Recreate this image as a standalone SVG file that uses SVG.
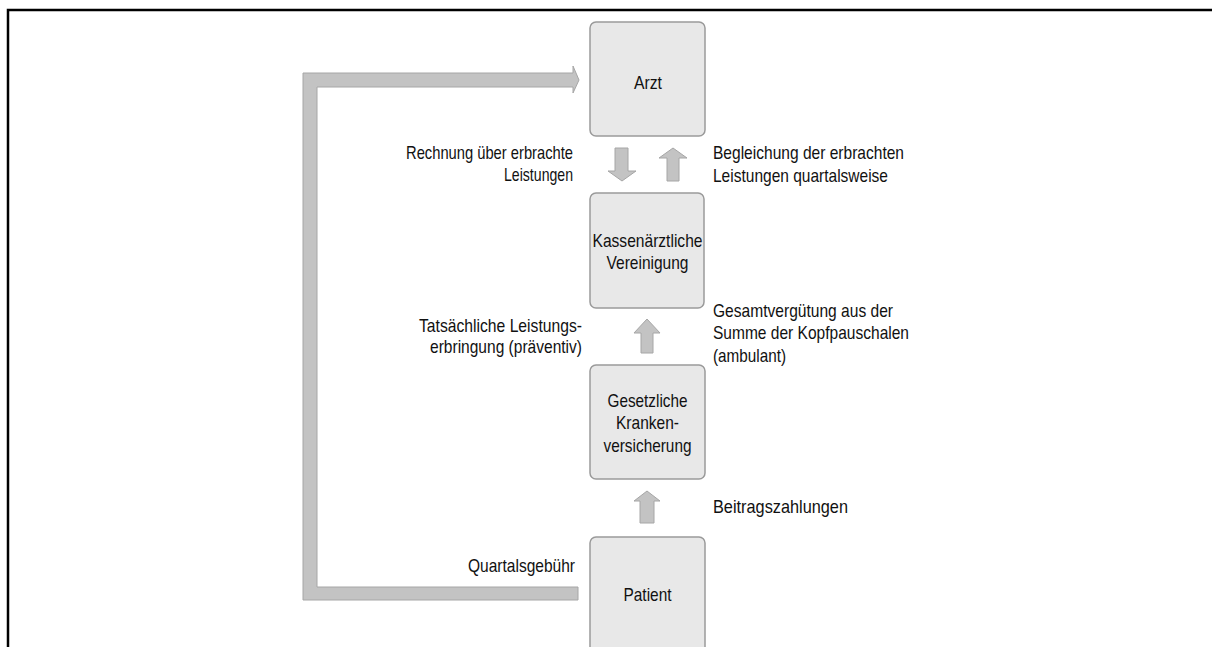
<svg xmlns="http://www.w3.org/2000/svg" width="1213" height="647" viewBox="0 0 1213 647">
<style>
.box{fill:#e8e8e8;stroke:#9a9a9a;stroke-width:1.5}
.arr{fill:#c3c3c3;stroke:#a6a6a6;stroke-width:1}
text{font-family:"Liberation Sans","Arial",sans-serif;font-size:19px;fill:#111}
.c{text-anchor:middle}
.r{text-anchor:end}
.frame{stroke:#000;stroke-width:2.5;fill:none}
</style>
<rect width="1213" height="647" fill="#fff"/>
<path class="frame" d="M8,647 V10 H1212"/>
<g id="connectors">
<polygon class="arr" points="303,73 573,73 573,66 579,80 573,93 573,87 317,87 317,587 578,587 578,600 303,600"/>
<polygon class="arr" points="615,148 628,148 628,171 636,171 622,181 608,171 615,171"/>
<polygon class="arr" points="667,181 679,181 679,158 687,158 673,148 659,158 667,158"/>
<polygon class="arr" points="641,353 653,353 653,333 660,333 647,319 634,333 641,333"/>
<polygon class="arr" points="640,523 654,523 654,501 660,501 647,491 634,501 640,501"/>
</g>
<g id="arzt">
<rect class="box" x="590" y="22" width="115" height="114" rx="6"/>
<text class="c" x="648" y="89" textLength="28" lengthAdjust="spacingAndGlyphs">Arzt</text>
</g>
<g id="kv">
<rect class="box" x="590" y="193" width="114" height="115" rx="6"/>
<text class="c" x="647.5" y="247" textLength="110" lengthAdjust="spacingAndGlyphs">Kassenärztliche</text>
<text class="c" x="647.5" y="269" textLength="82" lengthAdjust="spacingAndGlyphs">Vereinigung</text>
</g>
<g id="gkv">
<rect class="box" x="590" y="365" width="115" height="114" rx="6"/>
<text class="c" x="647.5" y="407" textLength="80" lengthAdjust="spacingAndGlyphs">Gesetzliche</text>
<text class="c" x="647.5" y="429" textLength="63" lengthAdjust="spacingAndGlyphs">Kranken-</text>
<text class="c" x="647.5" y="452" textLength="88" lengthAdjust="spacingAndGlyphs">versicherung</text>
</g>
<g id="patient">
<rect class="box" x="590" y="537" width="115" height="130" rx="6"/>
<text class="c" x="647.5" y="601" textLength="48" lengthAdjust="spacingAndGlyphs">Patient</text>
</g>
<g id="labels">
<text class="r" x="573" y="159" textLength="167" lengthAdjust="spacingAndGlyphs">Rechnung über erbrachte</text>
<text class="r" x="573" y="181" textLength="69" lengthAdjust="spacingAndGlyphs">Leistungen</text>
<text x="713" y="159" textLength="191" lengthAdjust="spacingAndGlyphs">Begleichung der erbrachten</text>
<text x="713" y="182" textLength="175" lengthAdjust="spacingAndGlyphs">Leistungen quartalsweise</text>
<text class="r" x="582" y="332" textLength="163" lengthAdjust="spacingAndGlyphs">Tatsächliche Leistungs-</text>
<text class="r" x="582" y="353" textLength="152" lengthAdjust="spacingAndGlyphs">erbringung (präventiv)</text>
<text x="713" y="317" textLength="180" lengthAdjust="spacingAndGlyphs">Gesamtvergütung aus der</text>
<text x="713" y="339" textLength="196" lengthAdjust="spacingAndGlyphs">Summe der Kopfpauschalen</text>
<text x="713" y="362" textLength="73" lengthAdjust="spacingAndGlyphs">(ambulant)</text>
<text x="713" y="513" textLength="135" lengthAdjust="spacingAndGlyphs">Beitragszahlungen</text>
<text class="r" x="575" y="572" textLength="107" lengthAdjust="spacingAndGlyphs">Quartalsgebühr</text>
</g>
</svg>
